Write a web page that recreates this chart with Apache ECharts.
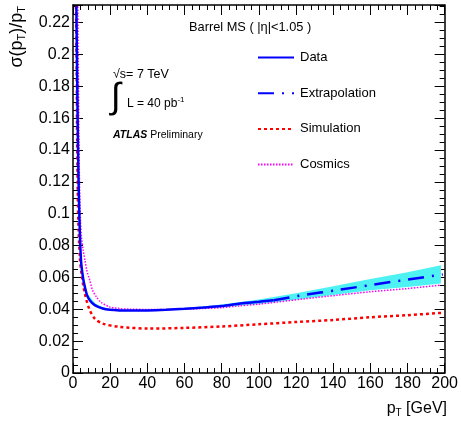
<!DOCTYPE html>
<html>
<head>
<meta charset="utf-8">
<script src="https://cdn.jsdelivr.net/npm/echarts@6/dist/echarts.min.js"></script>
<style>
  html, body { margin: 0; padding: 0; background: #fff; }
  #chart { width: 461px; height: 421px; }
</style>
</head>
<body>
<div id="chart"></div>
<script>
// values (pT in GeV, sigma(pT)/pT)
const dataPt      = [1.8, 2.2, 2.6, 3, 3.5, 4, 4.5, 5.5, 6.4, 7.5, 9, 11.7, 16, 20, 25, 30, 40, 50, 60, 70, 80, 90, 100, 108];
const dataSigma   = [0.23, 0.19, 0.15, 0.12, 0.095, 0.078, 0.068, 0.059, 0.054, 0.049, 0.0457, 0.0426, 0.0405, 0.0397, 0.0393, 0.0392, 0.0393, 0.0397, 0.0403, 0.0411, 0.042, 0.0436, 0.0447, 0.0457];

const extrapPt    = [108, 124, 142, 160, 178, 199];
const extrapSigma = [0.0457, 0.0489, 0.052, 0.0552, 0.0583, 0.0619];

const bandPt      = [8, 12, 16, 20, 30, 40, 60, 80, 100, 120, 140, 160, 180, 198];
const bandLow     = [0.0465, 0.0418, 0.0400, 0.0393, 0.0389, 0.0390, 0.0399, 0.0412, 0.0432, 0.0460, 0.0490, 0.0520, 0.0540, 0.0562];
const bandHigh    = [0.0495, 0.0436, 0.0412, 0.0401, 0.0395, 0.0396, 0.0407, 0.0430, 0.0462, 0.0500, 0.0545, 0.0590, 0.0632, 0.0677];

const simPt       = [1.6, 1.9, 2.2, 2.6, 3, 3.7, 4.6, 5.5, 6.4, 7.3, 9, 11.7, 16, 25, 41, 60, 80, 100, 120, 140, 160, 180, 199];
const simSigma    = [0.23, 0.2, 0.15, 0.11, 0.09, 0.072, 0.062, 0.055, 0.05, 0.0455, 0.0395, 0.0342, 0.031, 0.029, 0.0279, 0.0283, 0.0292, 0.0306, 0.032, 0.0333, 0.035, 0.0363, 0.0378];

const cosPt       = [2.6, 2.9, 3.2, 3.5, 4, 4.6, 5.5, 6.4, 7.5, 9, 10.5, 12.6, 15, 19.7, 25, 30, 40, 50, 60, 70, 80, 89, 100, 124, 142, 160, 180, 198];
const cosSigma    = [0.23, 0.19, 0.15, 0.12, 0.097, 0.0845, 0.077, 0.071, 0.064, 0.0583, 0.052, 0.0478, 0.0445, 0.0415, 0.0405, 0.0401, 0.0399, 0.0399, 0.0401, 0.0405, 0.041, 0.0421, 0.0432, 0.0465, 0.0488, 0.051, 0.053, 0.0552];

const zip = (xs, ys) => xs.map((x, i) => [x, ys[i]]);

const font = '"Liberation Sans", Arial, sans-serif';

const chart = echarts.init(document.getElementById('chart'), null, { renderer: 'canvas' });

const tickStyle = { lineStyle: { color: '#000', width: 1 } };

function xAx(pos, labels) {
  return {
    type: 'value', position: pos, min: 0, max: 200, interval: 20,
    axisLine: { show: true, onZero: false, lineStyle: { color: '#000', width: 1.5 } },
    axisTick: { show: true, inside: true, length: 10, ...tickStyle },
    minorTick: { show: true, splitNumber: 5, length: 5, ...tickStyle },
    axisLabel: { show: labels, color: '#000', fontSize: 16, fontFamily: font, margin: 3 },
    splitLine: { show: false }
  };
}
function yAx(pos, labels) {
  return {
    type: 'value', position: pos, min: 0, max: 0.231, interval: 0.02,
    axisLine: { show: true, onZero: false, lineStyle: { color: '#000', width: 1.5 } },
    axisTick: { show: true, inside: true, length: 10, ...tickStyle },
    minorTick: { show: true, splitNumber: 4, length: 5, ...tickStyle },
    axisLabel: { show: labels, showMaxLabel: false, color: '#000', fontSize: 16, fontFamily: font, margin: 3 },
    splitLine: { show: false }
  };
}

// error band of the fit, drawn as one polygon through the axis scales
function renderBand(params, api) {
  if (params.dataIndex !== 0) return null;
  const upper = bandPt.map((x, i) => api.coord([x, bandHigh[i]]));
  const lower = bandPt.map((x, i) => api.coord([x, bandLow[i]])).reverse();
  return {
    type: 'polygon',
    shape: { points: upper.concat(lower) },
    style: { fill: '#4ff2f2' }
  };
}

const option = {
  animation: false,
  grid: { left: 73, right: 12, top: 5, bottom: 48 },
  xAxis: [xAx('bottom', true), xAx('top', false)],
  yAxis: [yAx('left', true), yAx('right', false)],
  legend: {
    data: ['Data', 'Extrapolation', 'Simulation', 'Cosmics'],
    orient: 'vertical', left: 257, top: 51, padding: 0,
    itemWidth: 36, itemHeight: 12, itemGap: 22.7,
    itemStyle: { opacity: 0 },
    textStyle: { color: '#000', fontSize: 13, fontFamily: font, padding: [0, 0, 0, 1] }
  },
  series: [
    {
      name: 'band', type: 'custom', silent: true, renderItem: renderBand,
      data: zip(bandPt, bandLow), z: 1
    },
    {
      name: 'Cosmics', type: 'line', symbol: 'none', smooth: 0.3,
      data: zip(cosPt, cosSigma),
      lineStyle: { color: '#ff00ff', width: 1.5, type: [1.5, 1.5] },
      itemStyle: { color: '#ff00ff' }, z: 3
    },
    {
      name: 'Simulation', type: 'line', symbol: 'none', smooth: 0.3,
      data: zip(simPt, simSigma),
      lineStyle: { color: '#ff0000', width: 2.5, type: [3, 3] },
      itemStyle: { color: '#ff0000' }, z: 3
    },
    {
      name: 'Extrapolation', type: 'line', symbol: 'none', smooth: 0.3,
      data: zip(extrapPt, extrapSigma),
      lineStyle: { color: '#0000ff', width: 2.5, type: [16, 8, 2, 8] },
      itemStyle: { color: '#0000ff' }, z: 4
    },
    {
      name: 'Data', type: 'line', symbol: 'none', smooth: 0.3,
      data: zip(dataPt, dataSigma),
      lineStyle: { color: '#0000ff', width: 2.5 },
      itemStyle: { color: '#0000ff' }, z: 4
    }
  ],
  graphic: [
    {
      type: 'text', x: 8, y: 6, rotation: Math.PI / 2,
      style: {
        text: 'σ(p{s|T})/p{s|T}', fontSize: 18, fontFamily: font, fill: '#000',
        textAlign: 'right', textVerticalAlign: 'top',
        rich: { s: { fontSize: 11, fontFamily: font, padding: [8, 0, 0, 0] } }
      }
    },
    {
      type: 'text', x: 447, y: 400,
      style: {
        text: 'p{s|T} [GeV]', fontSize: 16, fontFamily: font, fill: '#000',
        textAlign: 'right',
        rich: { s: { fontSize: 10, fontFamily: font, padding: [8, 0, 0, 0] } }
      }
    },
    {
      type: 'text', x: 189, y: 21,
      style: { text: 'Barrel MS ( |η|<1.05 )', fontSize: 12.8, fontFamily: font, fill: '#000' }
    },
    {
      type: 'text', x: 113, y: 68,
      style: { text: '√s= 7 TeV', fontSize: 12.5, fontFamily: font, fill: '#000' }
    },
    {
      type: 'text', x: 111, y: 80,
      style: { text: '∫', fontSize: 36, fontFamily: font, fill: '#000' }
    },
    {
      type: 'text', x: 127, y: 96,
      style: {
        text: 'L = 40 pb{u|-1}', fontSize: 12, fontFamily: font, fill: '#000',
        rich: { u: { fontSize: 8, fontFamily: font, padding: [0, 0, 8, 0] } }
      }
    },
    {
      type: 'text', x: 113, y: 130,
      style: {
        text: '{b|ATLAS} Preliminary', fontSize: 10.5, fontFamily: font, fill: '#000',
        rich: { b: { fontSize: 10.5, fontWeight: 'bold', fontStyle: 'italic', fontFamily: font } }
      }
    }
  ]
};

chart.setOption(option);
</script>
</body>
</html>
